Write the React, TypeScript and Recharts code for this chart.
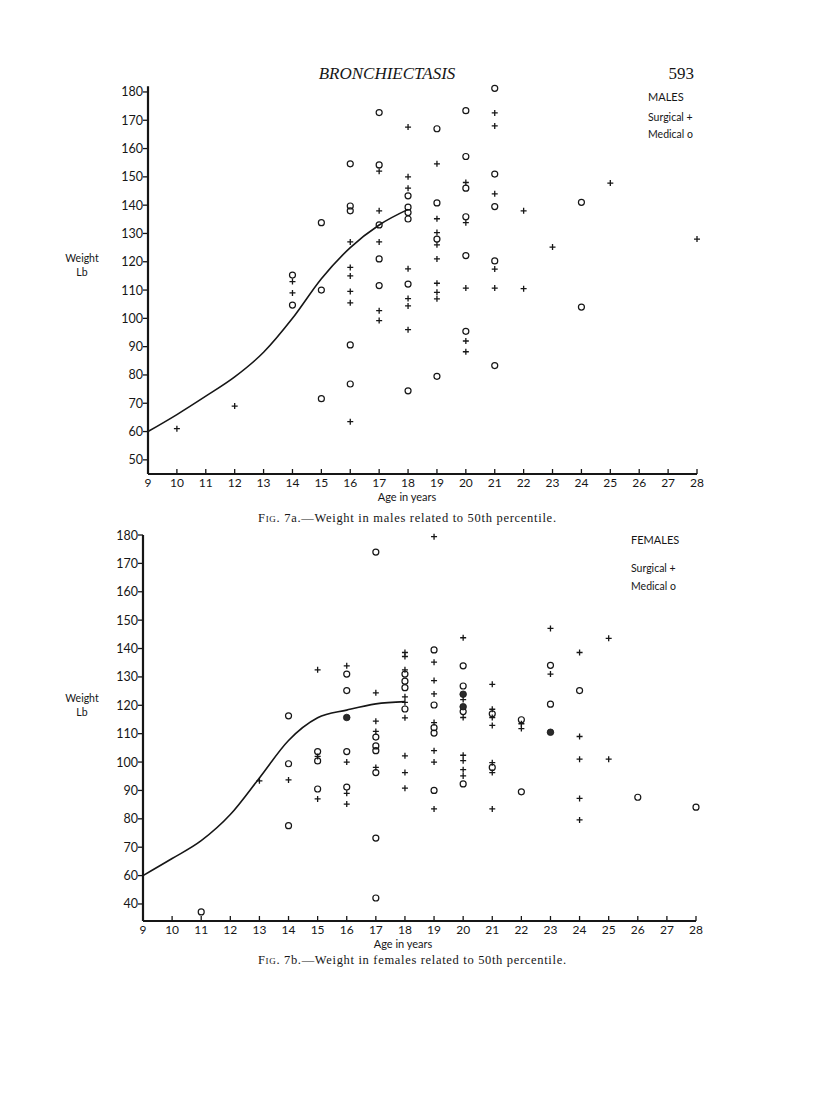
import { ComposedChart, Scatter, Line, XAxis, YAxis } from 'recharts'

// age axis, shared by both figures
const ageTicks = [9, 10, 11, 12, 13, 14, 15, 16, 17, 18, 19, 20, 21, 22, 23, 24, 25, 26, 27, 28]
const maleWeightTicks = [50, 60, 70, 80, 90, 100, 110, 120, 130, 140, 150, 160, 170, 180]
const femaleWeightTicks = [50, 60, 70, 80, 90, 100, 110, 120, 130, 140, 150, 160, 170, 180]
// the printed female scale reads "40" at its lowest mark
const femaleWeightLabels = ['40', '60', '70', '80', '90', '100', '110', '120', '130', '140', '150', '160', '170', '180']

// 50th percentile curves
const maleCurve = [
  { age: 9, w: 60 }, { age: 10, w: 66 }, { age: 11, w: 72.5 }, { age: 12, w: 79.3 }, { age: 13, w: 88 },
  { age: 14, w: 100 }, { age: 15, w: 114 }, { age: 16, w: 125 }, { age: 17, w: 133 }, { age: 18, w: 138.5 },
]
const femaleCurve = [
  { age: 9, w: 60 }, { age: 10, w: 66 }, { age: 11, w: 72.3 }, { age: 12, w: 81.5 }, { age: 13, w: 94.4 },
  { age: 14, w: 107.6 }, { age: 15, w: 115.6 }, { age: 16, w: 118.3 }, { age: 17, w: 120.5 }, { age: 18, w: 121.3 },
]

const maleSurgical = [
  { age: 10, w: 61 }, { age: 12, w: 69 },
  { age: 14, w: 113 }, { age: 14, w: 109 },
  { age: 16, w: 127 }, { age: 16, w: 118 }, { age: 16, w: 115 }, { age: 16, w: 109.5 }, { age: 16, w: 105.5 }, { age: 16, w: 63.5 },
  { age: 17, w: 152 }, { age: 17, w: 138 }, { age: 17, w: 127 }, { age: 17, w: 102.7 }, { age: 17, w: 99.2 },
  { age: 18, w: 167.6 }, { age: 18, w: 150 }, { age: 18, w: 146 }, { age: 18, w: 117.5 }, { age: 18, w: 107 }, { age: 18, w: 104.4 }, { age: 18, w: 96 },
  { age: 19, w: 154.6 }, { age: 19, w: 135.2 }, { age: 19, w: 130.3 }, { age: 19, w: 126 }, { age: 19, w: 121 }, { age: 19, w: 112.4 }, { age: 19, w: 109.2 }, { age: 19, w: 106.9 },
  { age: 20, w: 148 }, { age: 20, w: 133.8 }, { age: 20, w: 110.7 }, { age: 20, w: 92 }, { age: 20, w: 88.2 },
  { age: 21, w: 172.6 }, { age: 21, w: 168 }, { age: 21, w: 144 }, { age: 21, w: 117.4 }, { age: 21, w: 110.7 },
  { age: 22, w: 138 }, { age: 22, w: 110.5 },
  { age: 23, w: 125.2 }, { age: 25, w: 147.8 }, { age: 28, w: 128 },
]
const maleMedical = [
  { age: 14, w: 115.3 }, { age: 14, w: 104.7 },
  { age: 15, w: 133.8 }, { age: 15, w: 110 }, { age: 15, w: 71.6 },
  { age: 16, w: 154.6 }, { age: 16, w: 139.7 }, { age: 16, w: 138 }, { age: 16, w: 90.6 }, { age: 16, w: 76.8 },
  { age: 17, w: 172.7 }, { age: 17, w: 154.2 }, { age: 17, w: 133 }, { age: 17, w: 121 }, { age: 17, w: 111.6 },
  { age: 18, w: 143.3 }, { age: 18, w: 139.3 }, { age: 18, w: 137.4 }, { age: 18, w: 135.1 }, { age: 18, w: 112.1 }, { age: 18, w: 74.4 },
  { age: 19, w: 167 }, { age: 19, w: 140.8 }, { age: 19, w: 128 }, { age: 19, w: 79.5 },
  { age: 20, w: 173.4 }, { age: 20, w: 157.2 }, { age: 20, w: 146 }, { age: 20, w: 135.9 }, { age: 20, w: 122.2 }, { age: 20, w: 95.4 },
  { age: 21, w: 181.3 }, { age: 21, w: 151 }, { age: 21, w: 139.5 }, { age: 21, w: 120.3 }, { age: 21, w: 83.3 },
  { age: 24, w: 141 }, { age: 24, w: 104 },
]

const femaleSurgical = [
  { age: 13, w: 93.4 }, { age: 14, w: 93.7 },
  { age: 15, w: 132.5 }, { age: 15, w: 102 }, { age: 15, w: 87 },
  { age: 16, w: 133.9 }, { age: 16, w: 100 }, { age: 16, w: 89 }, { age: 16, w: 85.2 },
  { age: 17, w: 124.4 }, { age: 17, w: 114.4 }, { age: 17, w: 110.8 }, { age: 17, w: 98.1 },
  { age: 18, w: 138.6 }, { age: 18, w: 137.2 }, { age: 18, w: 132.5 }, { age: 18, w: 123 }, { age: 18, w: 121 }, { age: 18, w: 115.6 }, { age: 18, w: 102.2 }, { age: 18, w: 96.3 }, { age: 18, w: 90.8 },
  { age: 19, w: 179.4 }, { age: 19, w: 135.2 }, { age: 19, w: 128.7 }, { age: 19, w: 124 }, { age: 19, w: 113.9 }, { age: 19, w: 104 }, { age: 19, w: 100 }, { age: 19, w: 83.5 },
  { age: 20, w: 143.8 }, { age: 20, w: 122 }, { age: 20, w: 115.7 }, { age: 20, w: 102.4 }, { age: 20, w: 100.5 }, { age: 20, w: 97.3 }, { age: 20, w: 95.1 },
  { age: 21, w: 127.4 }, { age: 21, w: 118.6 }, { age: 21, w: 115.7 }, { age: 21, w: 112.9 }, { age: 21, w: 99.8 }, { age: 21, w: 96.3 }, { age: 21, w: 83.5 },
  { age: 22, w: 113.5 }, { age: 22, w: 111.8 },
  { age: 23, w: 147.1 }, { age: 23, w: 131 },
  { age: 24, w: 138.6 }, { age: 24, w: 109 }, { age: 24, w: 101 }, { age: 24, w: 87.2 }, { age: 24, w: 79.6 },
  { age: 25, w: 143.6 }, { age: 25, w: 101 },
]
const femaleMedical = [
  { age: 11, w: 47.2 },
  { age: 14, w: 116.3 }, { age: 14, w: 99.4 }, { age: 14, w: 77.6 },
  { age: 15, w: 103.7 }, { age: 15, w: 100.4 }, { age: 15, w: 90.5 },
  { age: 16, w: 131 }, { age: 16, w: 125.2 }, { age: 16, w: 103.7 }, { age: 16, w: 91.2 },
  { age: 17, w: 174 }, { age: 17, w: 108.8 }, { age: 17, w: 105.7 }, { age: 17, w: 104 }, { age: 17, w: 96.3 }, { age: 17, w: 73.2 }, { age: 17, w: 52.1 },
  { age: 18, w: 131 }, { age: 18, w: 128.5 }, { age: 18, w: 126.2 }, { age: 18, w: 118.7 },
  { age: 19, w: 139.5 }, { age: 19, w: 120.1 }, { age: 19, w: 112.1 }, { age: 19, w: 110.2 }, { age: 19, w: 90 },
  { age: 20, w: 133.9 }, { age: 20, w: 126.8 }, { age: 20, w: 117.8 }, { age: 20, w: 92.3 },
  { age: 21, w: 117 }, { age: 21, w: 98.1 },
  { age: 22, w: 114.9 }, { age: 22, w: 89.5 },
  { age: 23, w: 134.1 }, { age: 23, w: 120.4 },
  { age: 24, w: 125.2 }, { age: 26, w: 87.6 }, { age: 28, w: 84.1 },
]
const femaleFilled = [
  { age: 16, w: 115.7 }, { age: 20, w: 123.9 }, { age: 20, w: 119.5 }, { age: 23, w: 110.5 },
]

const INK = '#161616'
const tickFont = 'Lato, "DejaVu Sans", sans-serif'

function Plus(props: any) {
  const { cx, cy } = props
  return <path d={`M${cx - 3},${cy}h6M${cx},${cy - 3}v6`} stroke={INK} strokeWidth={1.3} fill="none" />
}

function Ring(props: any) {
  return <circle cx={props.cx} cy={props.cy} r={3} fill="none" stroke={INK} strokeWidth={1.2} />
}

function Blob(props: any) {
  return <circle cx={props.cx} cy={props.cy} r={3.3} fill="#2a2a2a" stroke={INK} strokeWidth={0.8} />
}

function AgeTick({ x, y, payload }: any) {
  return (
    <g>
      <line x1={x} y1={y} x2={x} y2={y - 5} stroke={INK} strokeWidth={1.3} />
      <text x={x} y={y + 13} textAnchor="middle" fontSize={12} fontFamily={tickFont} fill={INK}>
        {payload.value}
      </text>
    </g>
  )
}

function makeWeightTick(ticks: number[], labels?: string[]) {
  return function WeightTick({ x, y, payload }: any) {
    const label = labels ? labels[ticks.indexOf(payload.value)] : String(payload.value)
    return (
      <g>
        <line x1={x - 5} y1={y} x2={x} y2={y} stroke={INK} strokeWidth={1.3} />
        <text x={x - 5} y={y + 4.5} textAnchor="end" fontSize={12.5} fontFamily={tickFont} fill={INK}>
          {label}
        </text>
      </g>
    )
  }
}

const MaleWeightTick = makeWeightTick(maleWeightTicks)
const FemaleWeightTick = makeWeightTick(femaleWeightTicks, femaleWeightLabels)

function WeightChart({ curve, surgical, medical, filled, yDomain, yTicks, YTick, left, right, height, top }: any) {
  return (
    <ComposedChart width={816} height={height} margin={{ top, right, bottom: 0, left }}>
      <XAxis
        dataKey="age"
        type="number"
        domain={[9, 28]}
        ticks={ageTicks}
        interval={0}
        tickSize={0}
        tickMargin={0}
        tickLine={false}
        tick={<AgeTick />}
        axisLine={{ stroke: INK, strokeWidth: 2 }}
        height={30}
      />
      <YAxis
        dataKey="w"
        type="number"
        domain={yDomain}
        ticks={yTicks}
        interval={0}
        tickSize={0}
        tickMargin={0}
        tickLine={false}
        tick={<YTick />}
        axisLine={{ stroke: INK, strokeWidth: 2.2 }}
        width={40}
      />
      <Line
        data={curve}
        dataKey="w"
        type="monotone"
        stroke={INK}
        strokeWidth={1.6}
        dot={false}
        activeDot={false}
        isAnimationActive={false}
      />
      <Scatter data={surgical} dataKey="w" shape={<Plus />} isAnimationActive={false} />
      <Scatter data={medical} dataKey="w" shape={<Ring />} isAnimationActive={false} />
      {filled && <Scatter data={filled} dataKey="w" shape={<Blob />} isAnimationActive={false} />}
    </ComposedChart>
  )
}

const sans = { fontFamily: tickFont, fill: INK }
const serif = { fontFamily: '"Liberation Serif", "DejaVu Serif", serif', fill: INK }

export default function App() {
  return (
    <div style={{ position: 'absolute', left: 0, top: 0, width: 816, height: 1095, background: '#fff' }}>
      <div style={{ position: 'absolute', left: 0, top: 76 }}>
        <WeightChart
          curve={maleCurve}
          surgical={maleSurgical}
          medical={maleMedical}
          yDomain={[45, 182]}
          yTicks={maleWeightTicks}
          YTick={MaleWeightTick}
          left={108}
          right={119}
          top={10.3}
          height={428}
        />
      </div>
      <div style={{ position: 'absolute', left: 0, top: 525 }}>
        <WeightChart
          curve={femaleCurve}
          surgical={femaleSurgical}
          medical={femaleMedical}
          filled={femaleFilled}
          yDomain={[44, 180]}
          yTicks={femaleWeightTicks}
          YTick={FemaleWeightTick}
          left={103}
          right={120}
          top={10}
          height={426}
        />
      </div>
      <svg width={816} height={1095} style={{ position: 'absolute', left: 0, top: 0, pointerEvents: 'none' }}>
        <text x={387} y={79} textAnchor="middle" fontSize={17} fontStyle="italic" {...serif}>BRONCHIECTASIS</text>
        <text x={694} y={79} textAnchor="end" fontSize={17} {...serif}>593</text>

        <text x={648} y={101} fontSize={11} {...sans}>MALES</text>
        <text x={648} y={121} fontSize={10.5} {...sans}>Surgical +</text>
        <text x={648} y={138} fontSize={10.5} {...sans}>Medical o</text>
        <text x={82} y={262} textAnchor="middle" fontSize={10.5} {...sans}>Weight</text>
        <text x={82} y={276} textAnchor="middle" fontSize={10.5} {...sans}>Lb</text>
        <text x={407} y={501} textAnchor="middle" fontSize={11} {...sans}>Age in years</text>
        <text x={258} y={522} fontSize={12.5} textLength={298} lengthAdjust="spacing" {...serif}>
          <tspan fontVariant="small-caps">Fig.</tspan> 7a.—Weight in males related to 50th percentile.
        </text>

        <text x={631} y={544} fontSize={11} {...sans}>FEMALES</text>
        <text x={631} y={572} fontSize={10.5} {...sans}>Surgical +</text>
        <text x={631} y={590} fontSize={10.5} {...sans}>Medical o</text>
        <text x={82} y={702} textAnchor="middle" fontSize={10.5} {...sans}>Weight</text>
        <text x={82} y={716} textAnchor="middle" fontSize={10.5} {...sans}>Lb</text>
        <text x={403} y={948} textAnchor="middle" fontSize={11} {...sans}>Age in years</text>
        <text x={258} y={964} fontSize={12.5} textLength={308} lengthAdjust="spacing" {...serif}>
          <tspan fontVariant="small-caps">Fig.</tspan> 7b.—Weight in females related to 50th percentile.
        </text>
      </svg>
    </div>
  )
}
